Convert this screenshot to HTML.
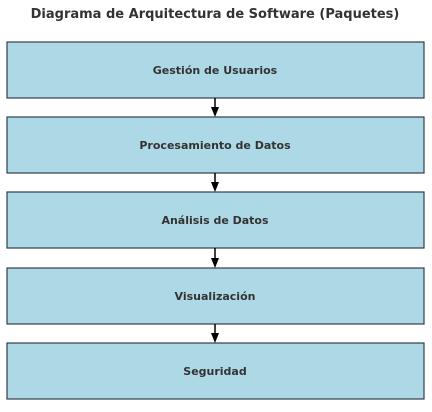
<!DOCTYPE html>
<html><head><meta charset="utf-8"><style>
body{margin:0;width:432px;height:407px;background:#fff;overflow:hidden}
</style></head><body>
<svg width="432" height="407" xmlns="http://www.w3.org/2000/svg" font-family="DejaVu Sans, Liberation Sans, sans-serif" font-weight="bold" fill="#333">
<text x="215" y="18" text-anchor="middle" font-size="13">Diagrama de Arquitectura de Software (Paquetes)</text>
<g stroke="#2f3f4a" stroke-width="1.2" fill="#add8e6">
<rect x="7" y="42" width="417" height="56"/>
<rect x="7" y="117" width="417" height="56"/>
<rect x="7" y="192" width="417" height="56"/>
<rect x="7" y="268" width="417" height="56"/>
<rect x="7" y="343" width="417" height="56"/>
</g>
<g stroke="#000" stroke-width="1.5">
<line x1="215" y1="98" x2="215" y2="110"/>
<line x1="215" y1="173" x2="215" y2="185"/>
<line x1="215" y1="248" x2="215" y2="261"/>
<line x1="215" y1="324" x2="215" y2="336"/>
</g>
<g fill="#000">
<polygon points="211,107 219,107 215,117"/>
<polygon points="211,182 219,182 215,192"/>
<polygon points="211,258 219,258 215,268"/>
<polygon points="211,333 219,333 215,343"/>
</g>
<g font-size="11" text-anchor="middle" fill="#333">
<text x="215" y="74">Gestión de Usuarios</text>
<text x="215" y="149">Procesamiento de Datos</text>
<text x="215" y="224">Análisis de Datos</text>
<text x="215" y="300">Visualización</text>
<text x="215" y="375">Seguridad</text>
</g>
</svg>
</body></html>
